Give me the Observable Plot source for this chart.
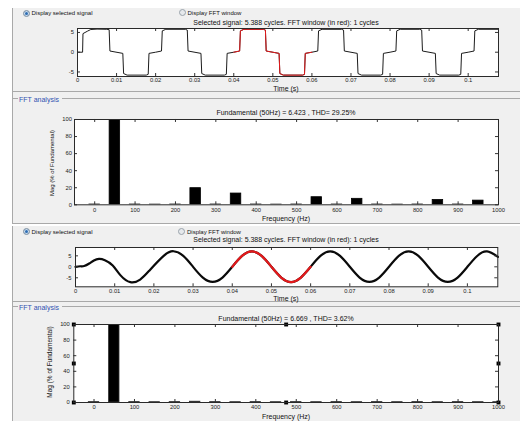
<!DOCTYPE html>
<html>
<head>
<meta charset="utf-8">
<script src="https://cdn.jsdelivr.net/npm/d3@7"></script>
<script src="https://cdn.jsdelivr.net/npm/@observablehq/plot@0.6"></script>
<style>
  html, body { margin: 0; padding: 0; background: #ffffff; }
  #page { position: relative; width: 520px; height: 421px; overflow: hidden;
          font-family: "Liberation Sans", Arial, sans-serif; color: #111; }
  .panel { position: absolute; background: #f0f0f0; }
  .hline, .vline { position: absolute; background: #a9a9a9; }
  .txt { position: absolute; white-space: nowrap; line-height: 1; }
  .radio { position: absolute; width: 5px; height: 5px; border-radius: 50%;
           border: 1px solid #9aa3ab; background: #e6e9ec; }
  .radio.on { background: #2f6db3; box-shadow: inset 0 0 0 1px #cfe0f0; }
  #page svg { position: absolute; left: 0; overflow: visible; }
</style>
</head>
<body>
<div id="page"></div>
<script>
// ---------- axis ticks ----------
const timeTicks = [0, 0.01, 0.02, 0.03, 0.04, 0.05, 0.06, 0.07, 0.08, 0.09, 0.1];
const timeTickLabels = ["0", "0.01", "0.02", "0.03", "0.04", "0.05", "0.06", "0.07", "0.08", "0.09", "0.1"];
const voltTicks = [-5, 0, 5];
const voltTickLabels = ["-5", "0", "5"];
const freqTicks = [0, 100, 200, 300, 400, 500, 600, 700, 800, 900, 1000];
const freqTickLabels = ["0", "100", "200", "300", "400", "500", "600", "700", "800", "900", "1000"];
const magTicks = [0, 20, 40, 60, 80, 100];
const magTickLabels = ["0", "20", "40", "60", "80", "100"];

// ---------- signals: [time (s), value] ----------
const fftWindow = [0.04, 0.06];

// quasi-square (120° conduction) inverter output
const squareWave = [
  [0, 0], [0.0013, 0], [0.0014, 4.7], [0.0025, 5.3], [0.0034, 5.75], [0.005, 5.85], [0.0075, 5.8], [0.0081, 5.7],
  [0.0083, 0.3], [0.0116, -0.3], [0.0118, -5.4], [0.0127, -5.8], [0.0176, -5.8], [0.0181, -5.6], [0.0183, -0.3],
  [0.02, 0], [0.0215, 0.3], [0.0217, 5.4], [0.0226, 5.8], [0.0276, 5.8], [0.0281, 5.6], [0.0283, 0.3],
  [0.0316, -0.3], [0.0318, -5.4], [0.0327, -5.8], [0.0376, -5.8], [0.0381, -5.6], [0.0383, -0.3],
  [0.04, 0], [0.0415, 0.3], [0.0417, 5.4], [0.0426, 5.8], [0.0476, 5.8], [0.0481, 5.6], [0.0483, 0.3],
  [0.0516, -0.3], [0.0518, -5.4], [0.0527, -5.8], [0.0576, -5.8], [0.0581, -5.6], [0.0583, -0.3],
  [0.06, 0], [0.0615, 0.3], [0.0617, 5.4], [0.0626, 5.8], [0.0676, 5.8], [0.0681, 5.6], [0.0683, 0.3],
  [0.0716, -0.3], [0.0718, -5.4], [0.0727, -5.8], [0.0776, -5.8], [0.0781, -5.6], [0.0783, -0.3],
  [0.08, 0], [0.0815, 0.3], [0.0817, 5.4], [0.0826, 5.8], [0.0876, 5.8], [0.0881, 5.6], [0.0883, 0.3],
  [0.0916, -0.3], [0.0918, -5.4], [0.0927, -5.8], [0.0976, -5.8], [0.0981, -5.6], [0.0983, -0.3],
  [0.1, 0], [0.1015, 0.3], [0.1017, 5.4], [0.1026, 5.8], [0.10776, 5.8]
];

// filtered output (near-sinusoidal after start-up transient)
const sineWave = [
  [0, 0], [0.0012, 0.25], [0.0022, 0.35], [0.0035, 1.5], [0.0047, 2.9], [0.006, 3.6], [0.0075, 3.0],
  [0.0095, 0.6], [0.0115, -3.9], [0.014, -7.0], [0.0165, -5.8], [0.019, -1.4],
  [0.0225, 5.0], [0.025, 7.1], [0.0275, 5.0], [0.03, 0], [0.0325, -4.9], [0.035, -6.9], [0.0375, -4.9],
  [0.04, 0], [0.0425, 4.95], [0.045, 7.0], [0.0475, 4.95], [0.05, 0], [0.0525, -4.9], [0.055, -6.95], [0.0575, -4.9],
  [0.06, 0], [0.0625, 4.95], [0.065, 7.0], [0.0675, 4.95], [0.07, 0], [0.0725, -4.9], [0.075, -6.9], [0.0775, -4.9],
  [0.08, 0], [0.0825, 4.95], [0.085, 7.0], [0.0875, 4.95], [0.09, 0], [0.0925, -4.9], [0.095, -6.9], [0.0975, -4.9],
  [0.1, 0], [0.1025, 4.95], [0.105, 7.0], [0.1078, 4.5]
];

// ---------- spectra: harmonic bins (Hz) and magnitude (% of fundamental) ----------
const binFreq = [0, 50, 100, 150, 200, 250, 300, 350, 400, 450, 500, 550, 600, 650, 700, 750, 800, 850, 900, 950, 1000];
const magSquare = [0.3, 100, 0.3, 0.2, 0.3, 19.5, 0.3, 13.2, 0.3, 0.2, 0.3, 8.9, 0.3, 7.0, 0.3, 0.2, 0.3, 5.7, 0.3, 4.9, 0];
const magSine = [0.5, 100, 0.5, 0.4, 0.5, 1.0, 0.5, 0.4, 0.5, 0.4, 0.5, 0.4, 0.5, 0.4, 0.5, 0.4, 0.5, 0.4, 0.5, 0.4, 0.4];

// selection handles around the selected axes
const handleX = [-50, 475, 1000];
const handleY = [0, 50, 100];

const page = document.getElementById("page");
const FONT = "'Liberation Sans', Arial, sans-serif";

function box(cls, x, y, w, h) {
  const d = document.createElement("div");
  d.className = cls;
  Object.assign(d.style, {left: x + "px", top: y + "px", width: w + "px", height: h + "px"});
  page.appendChild(d);
  return d;
}
function text(str, x, y, size, {align = "center", color = "#111", rotate = 0} = {}) {
  const d = document.createElement("div");
  d.className = "txt";
  d.textContent = str;
  const tx = align === "center" ? "-50%" : "0";
  Object.assign(d.style, {left: x + "px", top: y + "px", fontSize: size + "px", color,
    transform: `translate(${tx},-50%)` + (rotate ? ` rotate(${rotate}deg)` : "")});
  if (rotate) d.style.transformOrigin = "0 50%";
  page.appendChild(d);
  return d;
}
function yLabel(str, x, y, size) {
  const d = document.createElement("div");
  d.className = "txt";
  d.textContent = str;
  Object.assign(d.style, {left: x + "px", top: y + "px", fontSize: size + "px", color: "#111",
    transform: "translate(-50%,-50%) rotate(-90deg)"});
  page.appendChild(d);
}
function radio(x, y, on, label) {
  const r = box("radio" + (on ? " on" : ""), x, y - 3.5, 5, 5);
  text(label, x + 9, y, 6, {align: "left"});
  return r;
}

// MATLAB-style axes: white box, inward ticks on all four sides
function axesPlot({frameLeft, frameRight, frameTop, frameBottom, xDomain, yDomain,
                   xTicks, xLabels, yTicks, yLabels, xPad, yPad, marks}) {
  const mt = 6, mb = 16;
  const fh = frameBottom - frameTop, fw = frameRight - frameLeft;
  const tx = 3 * (yDomain[1] - yDomain[0]) / fh;   // 3px tick in y data units
  const ty = 3 * (xDomain[1] - xDomain[0]) / fw;   // 3px tick in x data units
  const svg = Plot.plot({
    width: 520, height: mt + fh + mb,
    marginTop: mt, marginBottom: mb, marginLeft: frameLeft, marginRight: 520 - frameRight,
    x: {domain: xDomain}, y: {domain: yDomain},
    style: {background: "transparent", fontFamily: FONT, fontSize: "5.8px", color: "#222", overflow: "visible"},
    marks: [
      Plot.frame({fill: "white", stroke: null}),
      ...marks,
      Plot.ruleX(xTicks, {x: d => d, y1: yDomain[0], y2: yDomain[0] + tx, stroke: "#333"}),
      Plot.ruleX(xTicks, {x: d => d, y1: yDomain[1], y2: yDomain[1] - tx, stroke: "#333"}),
      Plot.ruleY(yTicks, {y: d => d, x1: xDomain[0], x2: xDomain[0] + ty, stroke: "#333"}),
      Plot.ruleY(yTicks, {y: d => d, x1: xDomain[1], x2: xDomain[1] - ty, stroke: "#333"}),
      Plot.frame({stroke: "#2a2a2a"}),
      Plot.axisX({ticks: xTicks, tickFormat: d => xLabels[xTicks.indexOf(d)], tickSize: 0, tickPadding: xPad, label: null}),
      Plot.axisY({ticks: yTicks, tickFormat: d => yLabels[yTicks.indexOf(d)], tickSize: 0, tickPadding: yPad, label: null})
    ]
  });
  svg.style.top = (frameTop - mt) + "px";
  page.appendChild(svg);
}

const inWindow = d => d[0] >= fftWindow[0] && d[0] <= fftWindow[1];
const bars = mags => binFreq.map((f, i) => ({f, m: mags[i]}));

// ================= first GUI capture =================
box("panel", 12, 8, 508, 215);
box("vline", 12, 8, 1, 215);
box("hline", 12, 91, 508, 1);
box("hline", 12, 98, 6, 1);
box("hline", 62, 98, 458, 1);
box("hline", 12, 223, 508, 1);

radio(22.5, 13, true, "Display selected signal");
radio(178.5, 12.5, false, "Display FFT window");
text("Selected signal: 5.388 cycles. FFT window (in red): 1 cycles", 286, 22, 7);

axesPlot({
  frameLeft: 77, frameRight: 498, frameTop: 28, frameBottom: 76,
  xDomain: [0, 0.10776], yDomain: [-6.15, 6.0],
  xTicks: timeTicks, xLabels: timeTickLabels, yTicks: voltTicks, yLabels: voltTickLabels,
  xPad: 1.5, yPad: 3.5,
  marks: [
    Plot.line(squareWave, {x: d => d[0], y: d => d[1], stroke: "#1c1c1c", strokeWidth: 1}),
    Plot.line(squareWave.filter(inWindow), {x: d => d[0], y: d => d[1], stroke: "#e3191b", strokeWidth: 1})
  ]
});
text("Time (s)", 286, 88, 7);

text("FFT analysis", 19, 98.5, 7, {align: "left", color: "#3050b0"});
text("Fundamental (50Hz) = 6.423 , THD= 29.25%", 286, 111.5, 7);
axesPlot({
  frameLeft: 74, frameRight: 498, frameTop: 119, frameBottom: 204.3,
  xDomain: [-50, 1000], yDomain: [0, 100],
  xTicks: freqTicks, xLabels: freqTickLabels, yTicks: magTicks, yLabels: magTickLabels,
  xPad: 3, yPad: 2.5,
  marks: [
    Plot.rect(bars(magSquare), {x1: d => d.f - 13, x2: d => d.f + 13, y1: 0, y2: d => d.m,
      fill: "black", stroke: "black", strokeWidth: 0.8, clip: true})
  ]
});
yLabel("Mag (% of Fundamental)", 52, 163, 6);
text("Frequency (Hz)", 286, 217.5, 7);

// ================= second GUI capture =================
box("panel", 12, 226, 508, 195);
box("vline", 12, 226, 1, 195);
box("hline", 12, 301, 508, 1);
box("hline", 12, 306, 6, 1);
box("hline", 62, 306, 458, 1);

radio(22.5, 231.5, true, "Display selected signal");
radio(178, 231.5, false, "Display FFT window");
text("Selected signal: 5.388 cycles. FFT window (in red): 1 cycles", 286, 239, 7);

axesPlot({
  frameLeft: 75, frameRight: 497.3, frameTop: 246.7, frameBottom: 286,
  xDomain: [0, 0.10776], yDomain: [-9.1, 8.8],
  xTicks: timeTicks, xLabels: timeTickLabels, yTicks: voltTicks, yLabels: voltTickLabels,
  xPad: 1.8, yPad: 4,
  marks: [
    Plot.line(sineWave, {x: d => d[0], y: d => d[1], curve: "natural", stroke: "#0a0a0a", strokeWidth: 2.2}),
    Plot.line(sineWave.filter(inWindow), {x: d => d[0], y: d => d[1], curve: "natural", stroke: "#e3191b", strokeWidth: 2.2})
  ]
});
text("Time (s)", 286, 298, 7);

text("FFT analysis", 19, 306.5, 7, {align: "left", color: "#3050b0"});
text("Fundamental (50Hz) = 6.669 , THD= 3.62%", 286, 318.3, 7);
axesPlot({
  frameLeft: 73.3, frameRight: 498, frameTop: 324.3, frameBottom: 402.3,
  xDomain: [-50, 1000], yDomain: [0, 100],
  xTicks: freqTicks, xLabels: freqTickLabels, yTicks: magTicks, yLabels: magTickLabels,
  xPad: 2, yPad: 4,
  marks: [
    Plot.rect(bars(magSine), {x1: d => d.f - 13, x2: d => d.f + 13, y1: 0, y2: d => d.m,
      fill: "black", stroke: "#333", strokeWidth: 0.8, clip: true}),
    Plot.dot(d3.cross(handleX, handleY).filter(([x, y]) => !(x === 475 && y === 50)),
      {x: d => d[0], y: d => d[1], symbol: "square", r: 2.2, fill: "black", stroke: null})
  ]
});
yLabel("Mag (% of Fundamental)", 50, 362, 6.5);
text("Frequency (Hz)", 286, 415.5, 7);
</script>
</body>
</html>
